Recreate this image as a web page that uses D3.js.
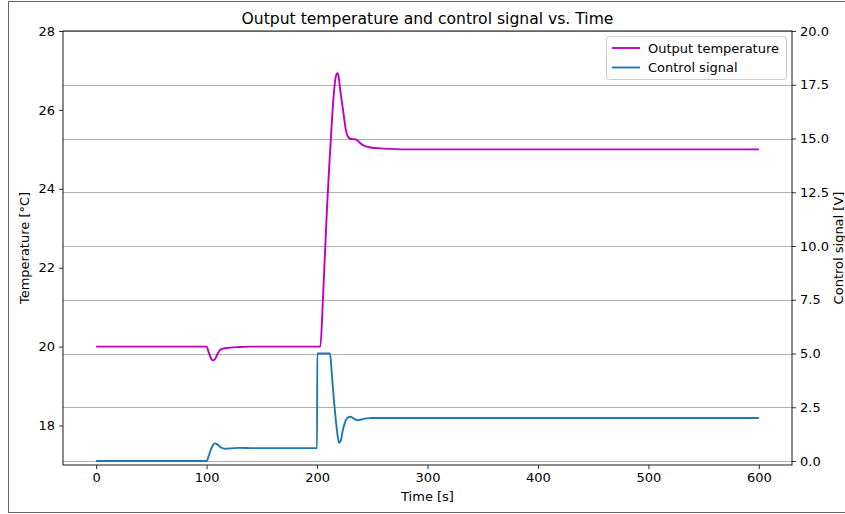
<!DOCTYPE html>
<html><head><meta charset="utf-8">
<script src="https://cdn.jsdelivr.net/npm/d3@7"></script>
<style>body{margin:0;background:#fff}svg{display:block}text{font-family:"DejaVu Sans",sans-serif}</style>
</head><body><svg id="c" width="845" height="514"></svg>
<script>
// ---- data ----
const tempTime = [0,100,102,104,106,108,110,112,115,120,130,140,203,205,207,209,211,213,215,217,218.4,219.5,221,223,224.5,226,228,230,233,236,239,242,246,250,260,280,600];
const tempValues = [20,20,19.85,19.7,19.65,19.7,19.82,19.91,19.95,19.97,19.99,20,20,21.0,22.25,23.5,24.55,25.5,26.35,26.85,26.93,26.85,26.5,26.1,25.8,25.5,25.32,25.27,25.26,25.24,25.16,25.1,25.06,25.04,25.02,25.0,25.0];
const ctrlTime = [0,100,102,104,106,107.6,110,113,116.7,120,125,130,140,200,200.2,211.8,213,215,217,219,220,221.5,223,225,227,229.9,232,234,237.4,240,245,250,600];
const ctrlValues = [0,0,0.25,0.55,0.75,0.82,0.76,0.63,0.57,0.58,0.6,0.61,0.6,0.6,5.0,5.0,4.3,3.0,1.9,1.05,0.85,0.95,1.35,1.75,1.98,2.06,2.02,1.95,1.9,1.93,1.98,2.0,2.0];
const xTicks = [0,100,200,300,400,500,600];
const leftTicks = [18,20,22,24,26,28];
const rightTicks = [0,2.5,5,7.5,10,12.5,15,17.5,20];
const seriesNames = ["Output temperature","Control signal"];
const seriesColors = ["#bf00bf","#1f77b4"];
const title = "Output temperature and control signal vs. Time";

// ---- layout ----
const L=63, R=792, T=31, B=465;
const svg = d3.select("#c");
svg.append("rect").attr("x",8.5).attr("y",1.5).attr("width",845).attr("height",511).attr("fill","none").attr("stroke","#666").attr("stroke-width",1);

const x = d3.scaleLinear().domain([-30,630]).range([L,R]);
const yL = d3.scaleLinear().domain([17.0,28]).range([B,T]);
const yR = d3.scaleLinear().domain([-0.186,20]).range([B,T]);

// grid (right axis)
svg.append("g").selectAll("line").data(rightTicks).join("line")
  .attr("x1",L).attr("x2",R).attr("y1",d=>Math.round(yR(d))+0.5).attr("y2",d=>Math.round(yR(d))+0.5)
  .attr("stroke","#b0b0b0").attr("stroke-width",1);

const line = (xs,ys,sy)=>d3.line().x(i=>x(xs[i])).y(i=>sy(ys[i])).curve(d3.curveMonotoneX)(d3.range(xs.length));
svg.append("path").attr("d",line(tempTime,tempValues,yL)).attr("fill","none").attr("stroke",seriesColors[0]).attr("stroke-width",1.9);
svg.append("path").attr("d",line(ctrlTime,ctrlValues,yR)).attr("fill","none").attr("stroke",seriesColors[1]).attr("stroke-width",1.9);

// axes
const fs = "13px";
const gx = svg.append("g").attr("transform",`translate(0,${B})`).call(d3.axisBottom(x).tickValues(xTicks).tickSize(4).tickPadding(4).tickFormat(d3.format("d")));
const gl = svg.append("g").attr("transform",`translate(${L},0)`).call(d3.axisLeft(yL).tickValues(leftTicks).tickSize(4).tickPadding(4).tickFormat(d3.format("d")));
const gr = svg.append("g").attr("transform",`translate(${R},0)`).call(d3.axisRight(yR).tickValues(rightTicks).tickSize(4).tickPadding(4).tickFormat(d3.format(".1f")));
[gx,gl,gr].forEach(g=>{g.select(".domain").remove();g.selectAll("text").attr("font-size",fs).attr("font-family","DejaVu Sans").attr("fill","#000");g.selectAll("line").attr("stroke","#000").attr("stroke-width",0.8);});
svg.append("rect").attr("x",L).attr("y",T).attr("width",R-L).attr("height",B-T).attr("fill","none").attr("stroke","#000").attr("stroke-width",0.9);

// labels
svg.append("text").attr("x",(L+R)/2).attr("y",24).attr("text-anchor","middle").attr("font-size","15.6px").text(title);
svg.append("text").attr("x",(L+R)/2).attr("y",501).attr("text-anchor","middle").attr("font-size",fs).text("Time [s]");
svg.append("text").attr("transform",`translate(29,${(T+B)/2}) rotate(-90)`).attr("text-anchor","middle").attr("font-size",fs).text("Temperature [°C]");
svg.append("text").attr("transform",`translate(843,${(T+B)/2}) rotate(-90)`).attr("text-anchor","middle").attr("font-size",fs).text("Control signal [V]");

// legend
const lg = svg.append("g");
lg.append("rect").attr("x",606.5).attr("y",36.5).attr("width",180).attr("height",43).attr("rx",3).attr("fill","#fff").attr("fill-opacity",0.8).attr("stroke","#ccc");
seriesNames.forEach((n,i)=>{
  const yy = 48+i*19.5;
  lg.append("line").attr("x1",612).attr("x2",640).attr("y1",yy).attr("y2",yy).attr("stroke",seriesColors[i]).attr("stroke-width",1.9);
  lg.append("text").attr("x",648).attr("y",yy+4.5).attr("font-size",fs).text(n);
});
</script></body></html>
